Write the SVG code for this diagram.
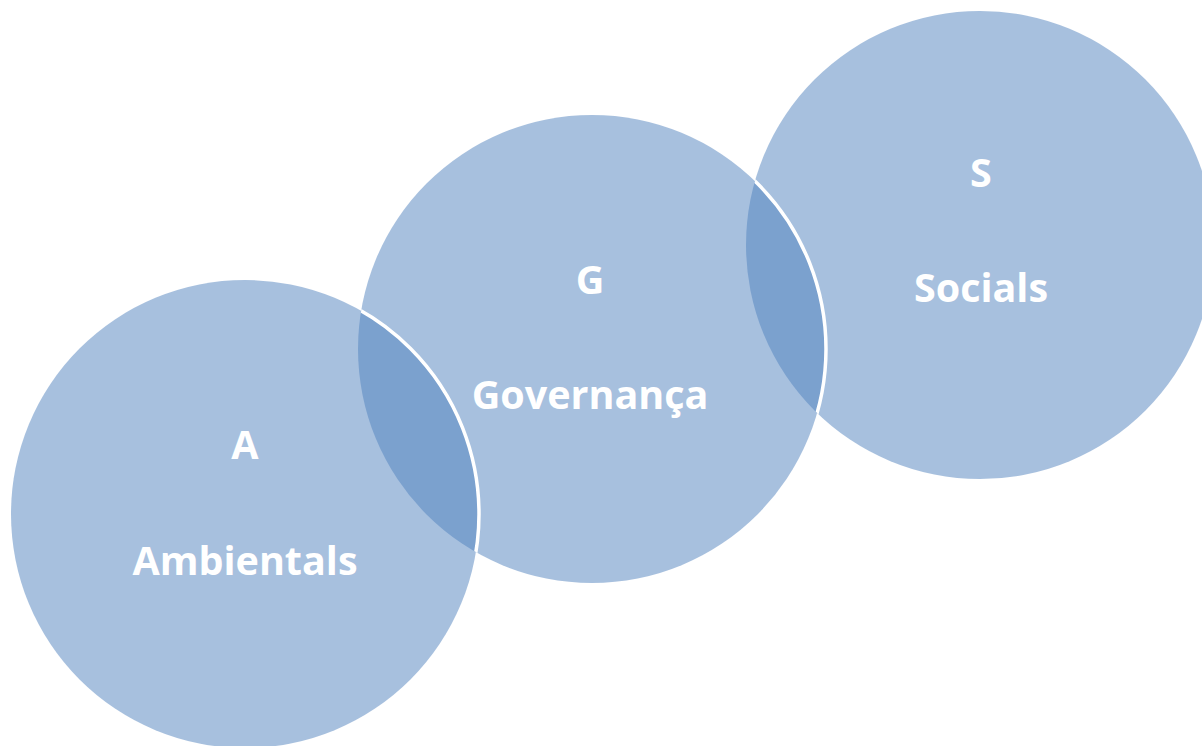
<svg xmlns="http://www.w3.org/2000/svg" width="1202" height="746" viewBox="0 0 1202 746">
<style>
.c{fill:#4F81BD;fill-opacity:0.5;stroke:none}
.e{fill:none;stroke:#FFFFFF;stroke-width:3.5}
.t{font-family:"Open Sans","Liberation Sans",sans-serif;font-weight:bold;font-size:39.5px;fill:#FFFFFF;text-anchor:middle}
</style>
<defs>
<clipPath id="clipS"><circle cx="980" cy="245" r="234"/></clipPath>
<clipPath id="clipG"><circle cx="592" cy="349" r="234"/></clipPath>
</defs>
<rect width="1202" height="746" fill="#FFFFFF"/>
<g id="node-S">
<circle class="c" cx="980" cy="245" r="234"/>
<text class="t" x="981" y="187">S</text>
<text class="t" x="981" y="302">Socials</text>
</g>
<g id="node-G">
<circle class="c" cx="592" cy="349" r="234"/>
<circle class="e" cx="592" cy="349" r="234" clip-path="url(#clipS)"/>
<text class="t" x="590" y="294">G</text>
<text class="t" x="590" y="409">Governança</text>
</g>
<g id="node-A">
<circle class="c" cx="245" cy="514" r="234"/>
<circle class="e" cx="245" cy="514" r="234" clip-path="url(#clipG)"/>
<text class="t" x="245" y="459">A</text>
<text class="t" x="245" y="575">Ambientals</text>
</g>
<g id="connectors"></g>
</svg>
